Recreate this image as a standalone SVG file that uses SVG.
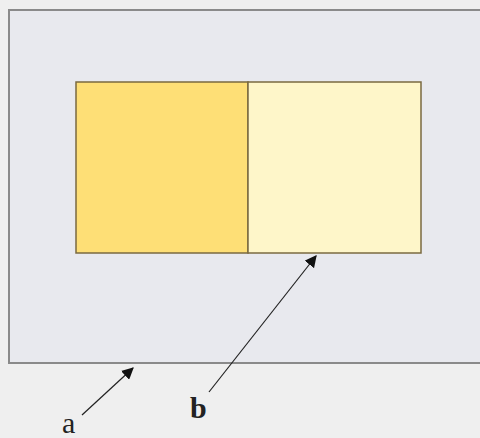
<svg xmlns="http://www.w3.org/2000/svg" width="480" height="438" viewBox="0 0 480 438">
<style>
.frame{fill:#e8e9ee;stroke:#8a8a8a;stroke-width:2}
.box{stroke:#7a6a40;stroke-width:1.5}
.conn{stroke:#222;stroke-width:1.2;fill:none;marker-end:url(#ah)}
.lbl{font-family:"Liberation Serif",serif;font-size:30px;fill:#222}
</style>
<defs>
<marker id="ah" viewBox="0 0 10 10" refX="9" refY="5" markerWidth="12" markerHeight="12" markerUnits="userSpaceOnUse" orient="auto">
<path d="M0,0 L10,5 L0,10 z" fill="#111"/>
</marker>
</defs>
<rect x="0" y="0" width="480" height="438" fill="#efefef"/>
<g id="frame"><rect class="frame" x="9" y="10" width="480" height="353"/></g>
<g id="left"><rect class="box" x="76" y="82" width="172" height="171" fill="#fedf76"/></g>
<g id="right"><rect class="box" x="248" y="82" width="173" height="171" fill="#fef6c9"/></g>
<g id="connectors">
<line class="conn" x1="82" y1="415" x2="133" y2="368"/>
<line class="conn" x1="209" y1="392" x2="316" y2="256"/>
</g>
<g id="labels">
<text class="lbl" x="62" y="433">a</text>
<text class="lbl" x="190" y="418" font-weight="bold">b</text>
</g>
</svg>
